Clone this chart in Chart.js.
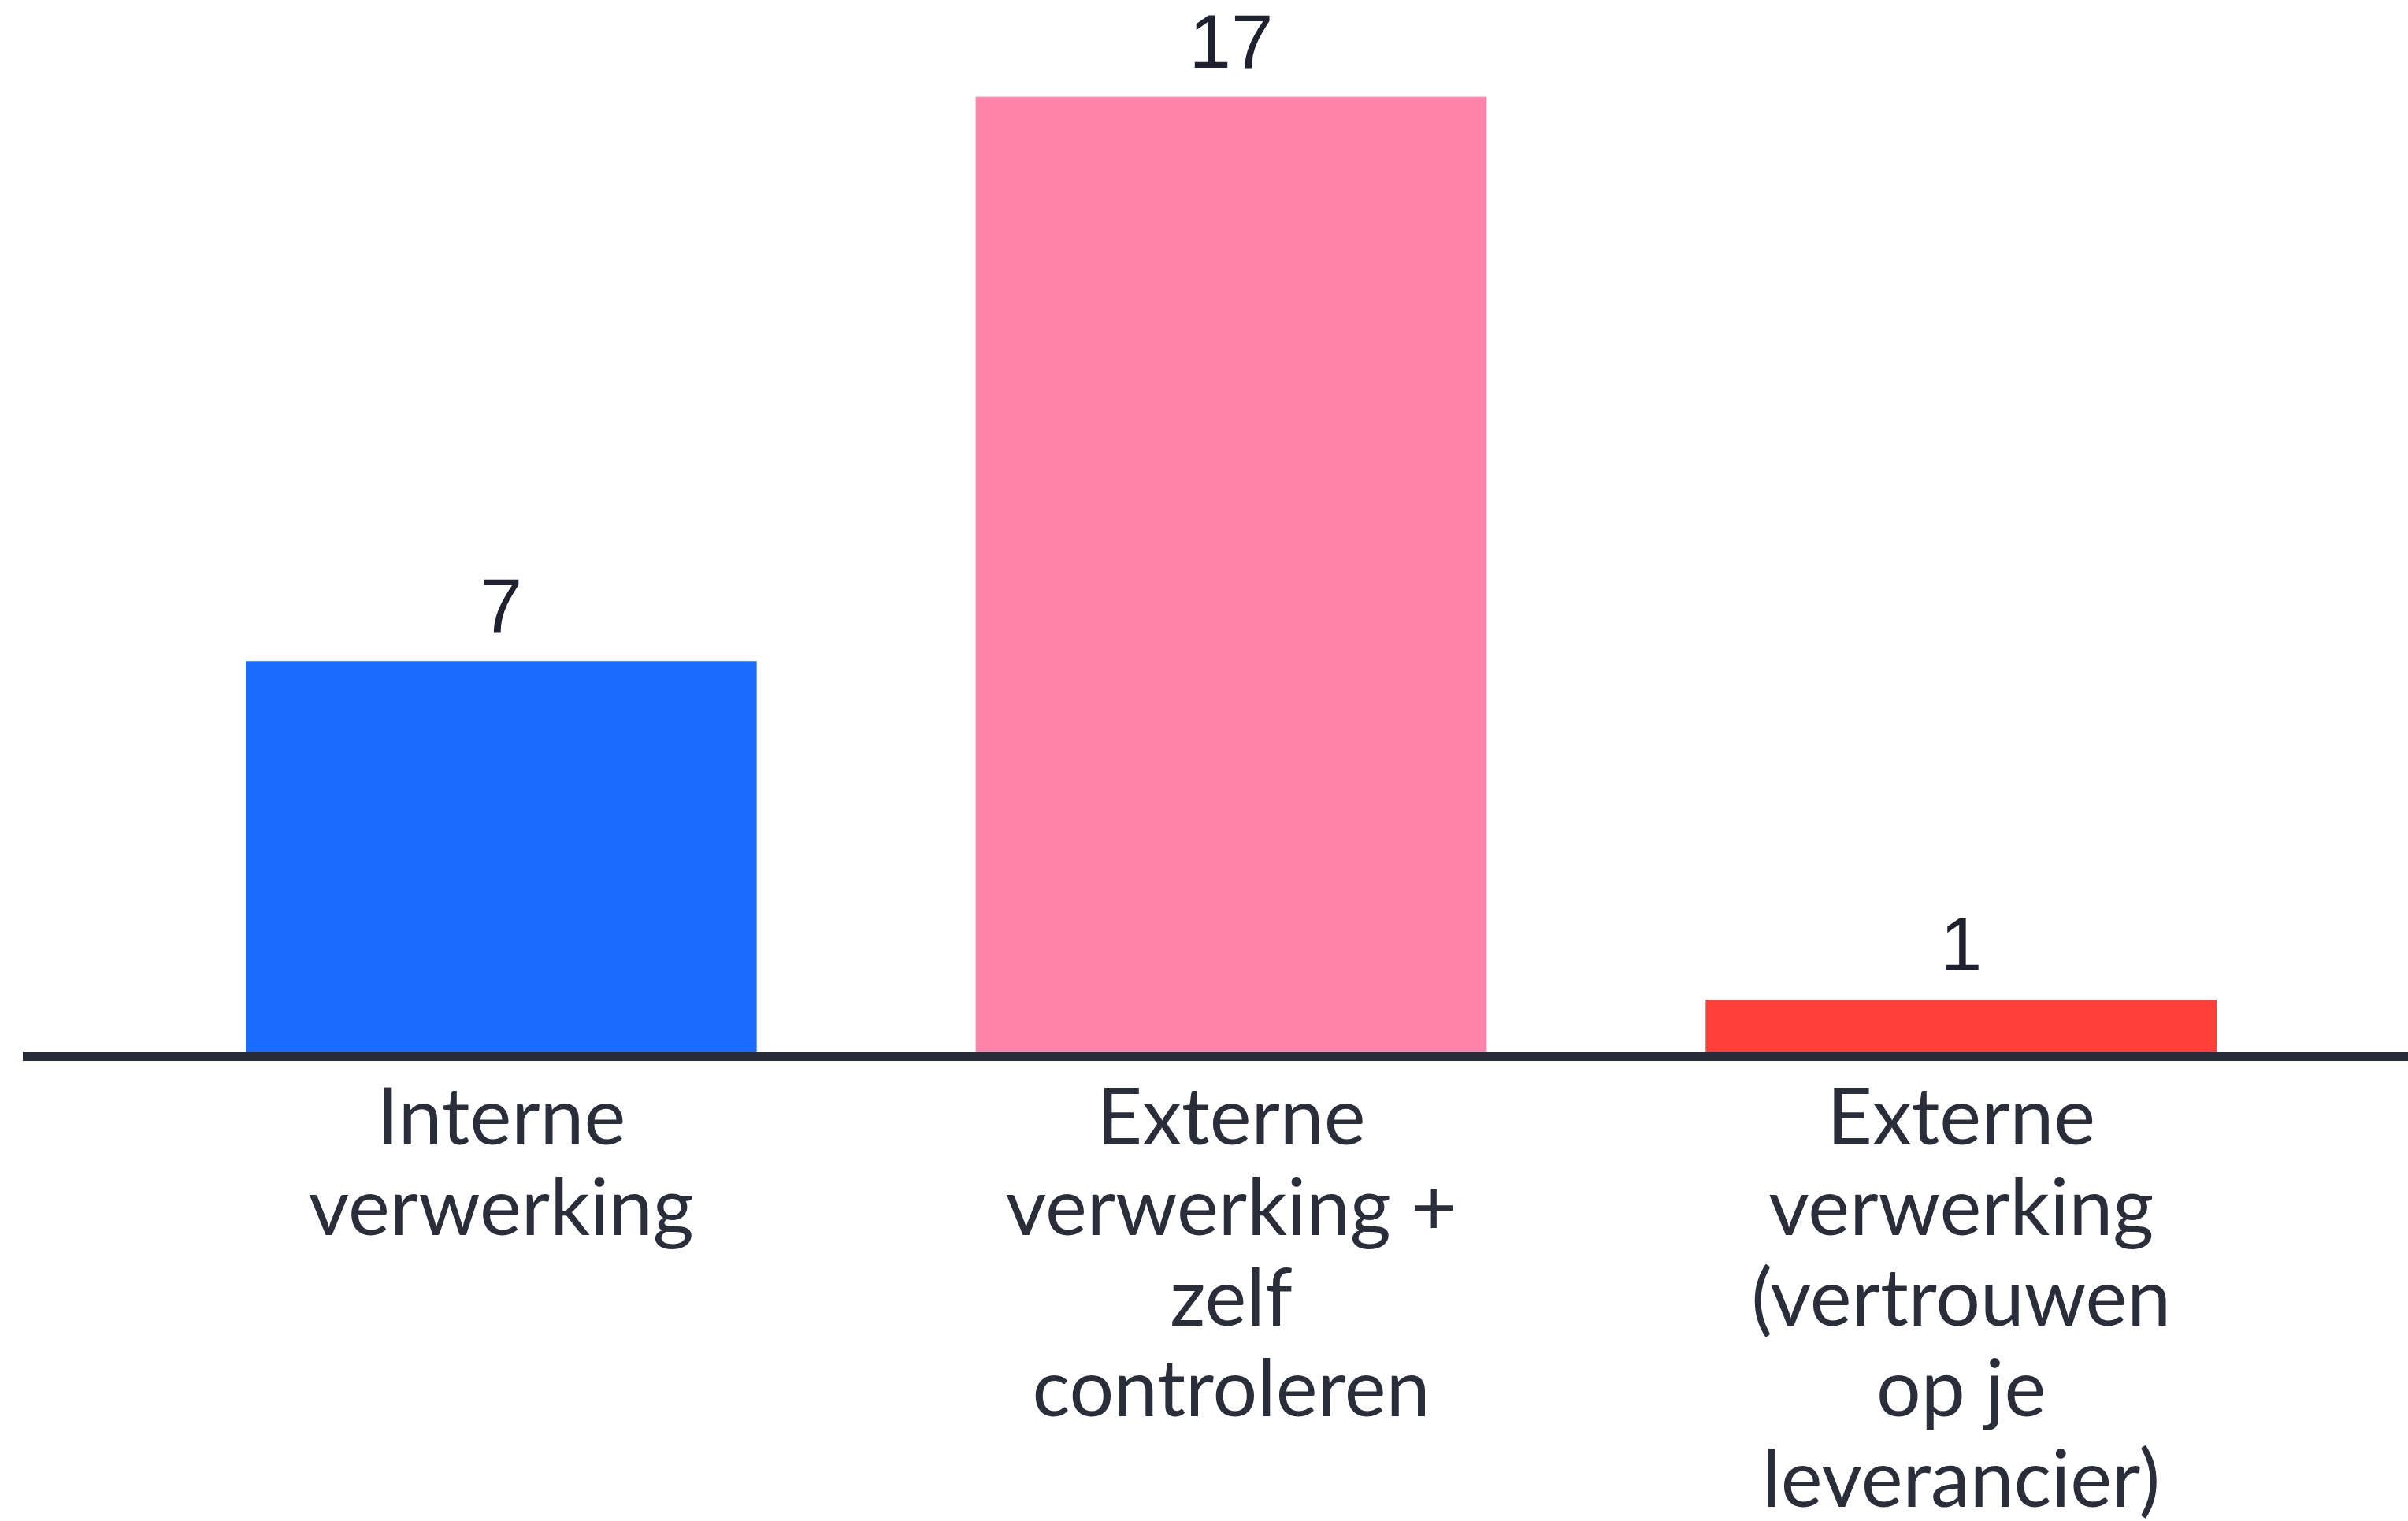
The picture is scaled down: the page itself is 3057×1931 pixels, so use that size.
<!DOCTYPE html>
<html>
<head>
<meta charset="utf-8">
<script src="https://cdn.jsdelivr.net/npm/chart.js@4/dist/chart.umd.min.js"></script>
<style>
  html, body { margin: 0; padding: 0; background: #ffffff; }
  #wrap { width: 3057px; height: 1931px; }
</style>
</head>
<body>
<div id="wrap"><canvas id="c" width="3057" height="1931"></canvas></div>
<script>
const categories = [
  ["Interne", "verwerking"],
  ["Externe", "verwerking +", "zelf", "controleren"],
  ["Externe", "verwerking", "(vertrouwen", "op je", "leverancier)"]
];
const values = [7, 17, 1];
const barColors = ["#1c6bff", "#ff82aa", "#ff403a"];
const yMax = 18;

const valueLabels = {
  id: 'valueLabels',
  afterDatasetsDraw(chart) {
    const ctx = chart.ctx;
    const meta = chart.getDatasetMeta(0);
    ctx.save();
    ctx.font = '96px "Liberation Sans", Arial, sans-serif';
    ctx.fillStyle = '#1e2230';
    ctx.textAlign = 'center';
    ctx.textBaseline = 'alphabetic';
    meta.data.forEach((bar, i) => {
      ctx.fillText(String(values[i]), bar.x, bar.y - 37);
    });
    ctx.restore();
  }
};

const axisLine = {
  id: 'axisLine',
  afterDatasetsDraw(chart) {
    const ctx = chart.ctx;
    const y = chart.scales.y.getPixelForValue(0);
    ctx.save();
    ctx.strokeStyle = '#272b38';
    ctx.lineWidth = 12;
    ctx.beginPath();
    ctx.moveTo(29, y);
    ctx.lineTo(chart.width, y);
    ctx.stroke();
    ctx.restore();
  }
};

new Chart(document.getElementById('c'), {
  type: 'bar',
  data: {
    labels: categories,
    datasets: [{
      data: values,
      backgroundColor: barColors,
      borderWidth: 0,
      categoryPercentage: 1.0,
      barPercentage: 0.70
    }]
  },
  options: {
    responsive: false,
    devicePixelRatio: 1,
    animation: false,
    layout: { padding: { left: 173, right: 104, top: 51, bottom: 0 } },
    plugins: {
      legend: { display: false },
      tooltip: { enabled: false }
    },
    scales: {
      x: {
        grid: { display: false, drawTicks: false },
        border: { display: false },
        afterFit(scale) { scale.height = 590; },
        ticks: {
          padding: 22,
          maxRotation: 0,
          autoSkip: false,
          color: '#2a2e3b',
          font: { family: 'Lato', size: 100, lineHeight: 1.15 }
        }
      },
      y: {
        display: false,
        min: 0,
        max: yMax
      }
    }
  },
  plugins: [valueLabels, axisLine]
});
</script>
</body>
</html>
